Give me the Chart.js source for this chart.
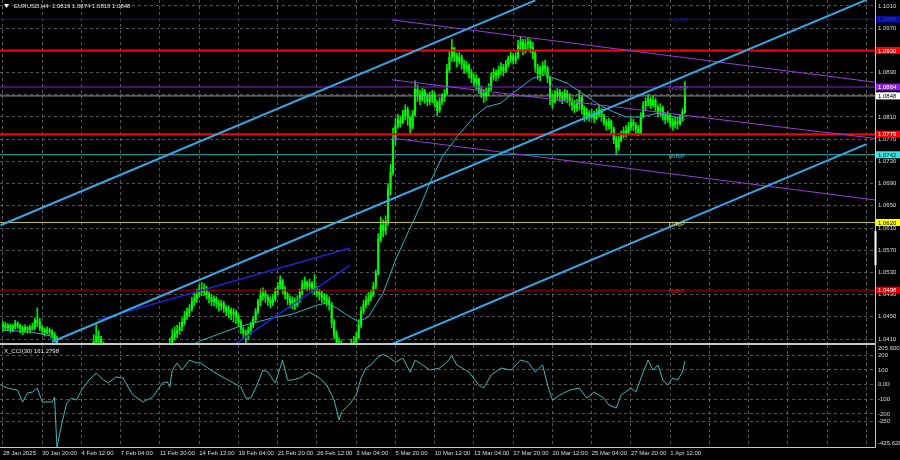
<!DOCTYPE html>
<html>
<head>
<meta charset="utf-8">
<script src="https://cdn.jsdelivr.net/npm/chart.js@4.4.1/dist/chart.umd.min.js"></script>
<style>
  html, body { margin: 0; padding: 0; background: #000; }
  #wrap { position: relative; width: 900px; height: 460px; overflow: hidden; background: #000; }
  canvas { position: absolute; left: 0; }
  #main { top: 0; }
  #cci { top: 344px; }
</style>
</head>
<body>
<div id="wrap">
  <canvas id="main" width="900" height="344"></canvas>
  <canvas id="cci" width="900" height="116"></canvas>
</div>
<script>
// EURUSD H4, one value per bar (bar 0 = 28 Jan 04:00)
const firstOpen = 1.0432;
const closes = [
  1.0436,1.0430,1.0434,1.0428,1.0432,1.0438,1.0433,1.0429,1.0426,1.0431,1.0427,1.0430,1.0432,1.0444,1.0440,1.0430,1.0426,1.0422,1.0426,1.0423,1.0418,1.0410,1.0395,
  1.0260,1.0290,1.0310,1.0300,1.0330,1.0340,1.0335,1.0350,1.0345,1.0360,1.0370,1.0375,1.0380,
  1.0392,1.0405,1.0415,1.0410,1.0400,1.0390,
  1.0380,1.0375,1.0385,1.0380,1.0375,1.0370,1.0380,1.0370,1.0355,1.0320,1.0330,1.0325,1.0310,1.0305,1.0315,1.0310,1.0305,1.0300,1.0310,1.0320,1.0340,1.0360,1.0355,1.0360,1.0370,1.0380,
  1.0400,1.0415,1.0420,1.0425,1.0432,1.0440,1.0452,1.0458,1.0465,1.0478,1.0482,1.0490,1.0500,1.0495,1.0502,1.0490,
  1.0485,1.0478,1.0482,1.0475,1.0470,1.0474,1.0466,1.0460,1.0462,1.0455,1.0458,1.0450,1.0440,1.0428,1.0420,1.0418,1.0426,1.0435,
  1.0445,1.0460,1.0478,1.0488,1.0492,1.0485,1.0480,1.0475,1.0482,1.0495,1.0505,1.0515,1.0500,1.0490,1.0482,1.0475,1.0478,1.0472,1.0480,1.0494,1.0508,1.0512,1.0505,1.0510,1.0502,1.0498,1.0494,1.0490,1.0486,1.0482,1.0480,1.0472,1.0440,1.0418,
  1.0405,1.0400,1.0395,1.0385,1.0380,1.0392,1.0398,1.0405,1.0412,1.0435,1.0460,1.0472,1.0478,
  1.0484,1.0490,1.0505,1.0528,1.0590,1.0615,1.0605,1.0622,1.0680,1.0710,1.0770,1.0795,
  1.0805,1.0800,1.0812,1.0822,1.0808,1.0792,1.0815,1.0860,1.0850,1.0842,1.0855,1.0848,1.0838,1.0845,1.0850,1.0836,1.0822,1.0838,1.0845,1.0852,1.0895,1.0918,1.0935,
  1.0920,1.0910,1.0918,1.0905,1.0898,1.0902,1.0890,1.0880,1.0872,1.0878,1.0860,1.0852,1.0848,1.0856,1.0862,1.0882,1.0890,
  1.0885,1.0895,1.0900,1.0893,1.0905,1.0915,1.0920,1.0912,1.0918,1.0940,1.0945,1.0930,1.0942,
  1.0945,1.0935,1.0925,1.0900,1.0888,1.0895,1.0902,1.0898,1.0880,1.0845,1.0838,1.0850,1.0855,1.0848,1.0842,1.0852,1.0845,
  1.0838,1.0832,1.0826,1.0834,1.0845,1.0825,1.0812,1.0818,1.0810,1.0815,1.0808,1.0815,1.0822,1.0812,1.0800,1.0795,1.0802,1.0790,1.0770,1.0755,
  1.0768,1.0778,1.0785,1.0780,1.0792,1.0800,1.0795,1.0788,1.0782,1.0810,1.0830,1.0838,1.0842,1.0832,1.0840,1.0828,1.0818,1.0826,1.0812,1.0805,1.0812,1.0800,1.0795,1.0802,1.0798,1.0808,1.0819,1.0848
];
const highs = [
  1.0442,1.0440,1.0438,1.0437,1.0436,1.0444,1.0441,1.0437,1.0434,1.0436,1.0433,1.0435,1.0439,1.0448,1.0466,1.0447,1.0434,1.0430,1.0432,1.0430,1.0427,1.0422,1.0415,
  1.0330,1.0300,1.0320,1.0330,1.0350,1.0360,1.0350,1.0360,1.0360,1.0375,1.0385,1.0390,1.0395,
  1.0400,1.0418,1.0436,1.0425,1.0415,1.0405,
  1.0395,1.0390,1.0398,1.0396,1.0388,1.0382,1.0398,1.0385,1.0375,1.0360,1.0340,1.0340,1.0330,1.0320,1.0325,1.0320,1.0318,1.0315,1.0320,1.0330,1.0350,1.0370,1.0370,1.0372,1.0380,1.0392,
  1.0412,1.0428,1.0432,1.0435,1.0440,1.0448,1.0460,1.0466,1.0472,1.0485,1.0492,1.0500,1.0508,1.0512,1.0510,1.0505,
  1.0495,1.0490,1.0488,1.0486,1.0480,1.0480,1.0478,1.0470,1.0470,1.0466,1.0465,1.0462,1.0455,1.0445,1.0432,1.0426,1.0432,1.0440,
  1.0450,1.0465,1.0482,1.0500,1.0502,1.0498,1.0490,1.0486,1.0490,1.0502,1.0512,1.0524,1.0518,1.0505,1.0494,1.0488,1.0486,1.0484,1.0488,1.0500,1.0516,1.0522,1.0515,1.0518,1.0514,1.0526,1.0505,1.0500,1.0496,1.0492,1.0490,1.0486,1.0476,1.0445,
  1.0425,1.0412,1.0408,1.0400,1.0395,1.0402,1.0410,1.0415,1.0422,1.0445,1.0468,1.0480,1.0488,
  1.0494,1.0498,1.0512,1.0534,1.0600,1.0630,1.0625,1.0632,1.0690,1.0725,1.0790,1.0808,
  1.0815,1.0812,1.0822,1.0832,1.0828,1.0812,1.0822,1.0875,1.0868,1.0858,1.0862,1.0860,1.0852,1.0855,1.0858,1.0854,1.0840,1.0845,1.0852,1.0860,1.0905,1.0930,1.0950,
  1.0935,1.0925,1.0926,1.0922,1.0912,1.0910,1.0906,1.0896,1.0888,1.0886,1.0880,1.0866,1.0860,1.0862,1.0870,1.0890,1.0898,
  1.0895,1.0902,1.0908,1.0905,1.0912,1.0920,1.0927,1.0925,1.0926,1.0948,1.0955,1.0950,1.0950,
  1.0952,1.0950,1.0945,1.0930,1.0905,1.0902,1.0910,1.0912,1.0902,1.0882,1.0852,1.0858,1.0862,1.0860,1.0855,1.0860,1.0858,
  1.0852,1.0845,1.0840,1.0842,1.0858,1.0848,1.0830,1.0826,1.0822,1.0824,1.0820,1.0825,1.0832,1.0826,1.0815,1.0806,1.0808,1.0805,1.0792,1.0775,
  1.0775,1.0785,1.0792,1.0795,1.0800,1.0808,1.0806,1.0800,1.0795,1.0818,1.0838,1.0845,1.0850,1.0846,1.0848,1.0844,1.0832,1.0834,1.0830,1.0818,1.0820,1.0815,1.0808,1.0810,1.0808,1.0815,1.0825,1.0874
];
const lows = [
  1.0424,1.0425,1.0426,1.0422,1.0423,1.0428,1.0429,1.0421,1.0418,1.0422,1.0420,1.0421,1.0426,1.0427,1.0432,1.0425,1.0418,1.0415,1.0419,1.0416,1.0412,1.0405,1.0388,
  1.0210,1.0240,1.0270,1.0280,1.0290,1.0320,1.0320,1.0330,1.0330,1.0340,1.0350,1.0360,1.0365,
  1.0380,1.0390,1.0398,1.0400,1.0390,1.0375,
  1.0370,1.0365,1.0370,1.0370,1.0365,1.0360,1.0365,1.0360,1.0340,1.0305,1.0310,1.0315,1.0300,1.0290,1.0300,1.0300,1.0295,1.0290,1.0295,1.0305,1.0315,1.0335,1.0345,1.0350,1.0355,1.0365,
  1.0385,1.0398,1.0408,1.0412,1.0418,1.0425,1.0435,1.0445,1.0450,1.0460,1.0470,1.0476,1.0485,1.0488,1.0488,1.0482,
  1.0475,1.0470,1.0470,1.0466,1.0460,1.0462,1.0458,1.0452,1.0448,1.0445,1.0440,1.0438,1.0432,1.0420,1.0410,1.0402,1.0410,1.0418,
  1.0430,1.0440,1.0455,1.0470,1.0480,1.0476,1.0470,1.0466,1.0470,1.0478,1.0490,1.0500,1.0492,1.0482,1.0472,1.0466,1.0465,1.0463,1.0468,1.0476,1.0490,1.0500,1.0496,1.0498,1.0494,1.0490,1.0486,1.0480,1.0476,1.0474,1.0470,1.0462,1.0430,1.0410,
  1.0395,1.0388,1.0380,1.0370,1.0365,1.0375,1.0385,1.0390,1.0400,1.0410,1.0430,1.0455,1.0466,
  1.0472,1.0478,1.0486,1.0500,1.0525,1.0585,1.0594,1.0598,1.0615,1.0670,1.0705,1.0760,
  1.0790,1.0792,1.0798,1.0805,1.0795,1.0780,1.0788,1.0812,1.0838,1.0832,1.0838,1.0835,1.0830,1.0832,1.0836,1.0828,1.0812,1.0818,1.0832,1.0838,1.0850,1.0890,1.0910,
  1.0910,1.0900,1.0905,1.0896,1.0888,1.0890,1.0880,1.0872,1.0864,1.0860,1.0852,1.0845,1.0836,1.0840,1.0848,1.0858,1.0876,
  1.0875,1.0880,1.0886,1.0884,1.0890,1.0900,1.0908,1.0905,1.0906,1.0915,1.0928,1.0922,1.0925,
  1.0932,1.0926,1.0915,1.0892,1.0878,1.0875,1.0885,1.0888,1.0872,1.0832,1.0826,1.0835,1.0840,1.0838,1.0834,1.0838,1.0836,
  1.0830,1.0822,1.0818,1.0820,1.0822,1.0815,1.0802,1.0805,1.0802,1.0806,1.0800,1.0805,1.0810,1.0802,1.0795,1.0786,1.0788,1.0780,1.0762,1.0742,
  1.0750,1.0765,1.0772,1.0774,1.0778,1.0786,1.0785,1.0780,1.0776,1.0780,1.0808,1.0822,1.0830,1.0825,1.0828,1.0820,1.0810,1.0812,1.0804,1.0798,1.0800,1.0792,1.0786,1.0790,1.0788,1.0795,1.0802,1.0816
];
const opens = closes.map((c, i) => (i === 0 ? firstOpen : closes[i - 1]));

// moving average, read at selected bars
const maIdx = [0, 11, 19, 21, 30, 50, 65, 75, 80, 96, 110, 118, 128, 132, 136, 141, 145, 149, 155, 160, 165, 170, 174, 179, 185, 192, 197, 203, 207, 216, 221, 230, 237, 243, 249, 254, 260, 267, 276, 278];
const maVal = [1.0426, 1.0423, 1.0416, 1.0405, 1.0385, 1.0372, 1.0376, 1.0394, 1.0406, 1.0432, 1.0448, 1.0455, 1.0471, 1.0475, 1.0466, 1.0451, 1.0441, 1.0450, 1.0493, 1.0552, 1.0601, 1.0648, 1.0691, 1.0738, 1.0774, 1.0810, 1.0828, 1.0835, 1.0850, 1.0880, 1.0886, 1.0871, 1.0850, 1.0832, 1.0819, 1.0810, 1.0810, 1.0817, 1.0808, 1.0806];

// CCI(30), read at selected bars
const cciIdx = [-1, 2, 6, 8, 10, 12, 14, 16, 20, 21, 22, 24, 26, 28, 30, 32, 35, 38, 41, 43, 46, 49, 51, 53, 57, 61, 65, 67, 68, 69, 71, 73, 76, 79, 80, 86, 94, 97, 99, 101, 103, 106, 108, 111, 114, 116, 118, 121, 125, 129, 132, 135, 137, 138, 141, 144, 146, 148, 150, 153, 155, 157, 160, 163, 166, 168, 171, 174, 178, 181, 183, 185, 190, 194, 196, 199, 203, 207, 211, 214, 217, 220, 222, 224, 227, 231, 235, 238, 241, 245, 247, 250, 252, 256, 258, 261, 263, 265, 267, 269, 271, 273, 275, 277, 278];
const cciVal = [-3, -24, -38, -119, -57, -51, -24, -119, -119, -85, -425.63, -263, -126, -92, -105, -38, 31, 78, 31, 11, 52, 45, -17, -71, -119, -85, 11, 18, -17, 99, 147, 99, 167, 147, 153, 85, 11, -17, -92, -92, -24, 99, 85, 11, 167, 31, 31, 45, 85, 45, -3, -105, -242, -187, -140, -71, 45, 113, 134, 190, 205.6, 190, 153, 181, 85, 167, 134, 99, 113, 153, 195, 134, 85, -3, -24, 65, 113, 99, 167, 153, 85, 134, -3, -105, -71, -38, -24, -92, -51, -92, -140, -160, -71, -24, -51, 85, 167, 99, 134, 31, -3, 45, 31, 85, 161.28];

const timeLabels = ['28 Jan 2025', '30 Jan 20:00', '4 Feb 12:00', '7 Feb 04:00', '11 Feb 20:00', '14 Feb 12:00', '19 Feb 04:00', '21 Feb 20:00', '26 Feb 12:00', '3 Mar 04:00', '5 Mar 20:00', '10 Mar 12:00', '13 Mar 04:00', '17 Mar 20:00', '20 Mar 12:00', '25 Mar 04:00', '27 Mar 20:00', '1 Apr 12:00'];
const barsPerLabel = 16;
const priceTicks = [1.0410, 1.0450, 1.0490, 1.0530, 1.0570, 1.0610, 1.0650, 1.0690, 1.0730, 1.0770, 1.0810, 1.0850, 1.0890, 1.0930, 1.0970, 1.1010];
const cciTicks = [200, 100, 0, -100, -200, -250];
const cciTickText = ['200', '100', '0.00', '-100', '-200', '-250'];
const cciMax = 205.6007, cciMin = -425.628;

// horizontal levels and their tags
const levels = [1.0986, 1.0930, 1.0864, 1.0848, 1.0779, 1.0742, 1.0620, 1.0498];
const levelTags = ['[+2/8]P', '', '[+1/8]P', '', '', '[8/8]P', '[7/8]P', '[6/8]P'];
const tagBar = 271.5;

// trend lines, [bar, price] end points
const chanTop = [[-1, 1.0615], [217, 1.1020]];
const chanMid = [[20, 1.0405], [352, 1.1021]];
const chanLow = [[150, 1.0385], [352, 1.0761]];
const purpTop = [[158.6, 1.0985], [360, 1.0870]];
const purpMid = [[158.6, 1.0877], [360, 1.0769]];
const purpLow = [[158.6, 1.0772], [360, 1.0658]];
const blueA = [[38.3, 1.0444], [141.5, 1.0574]];
const blueB = [[94, 1.0399], [141.5, 1.0543]];

// price-scale marker on the right edge
const scaleMark = [1.0543, 1.0605];

// ---- view / style ----
const X_MIN = -1.22, X_MAX = 355.5;
const Y_MIN = 1.04028, Y_MAX = 1.10208;
const CCI_TOP = 270;
const FONT = 'Liberation Sans';
const AXIS_W = 25;
const gridColor = 'rgba(140,140,140,0.6)';
const levelStyle = [
  { line: '#12128c', w: 1, box: '#0a0a96', txt: '#3a3ad0', tag: '#1e1eaa' },
  { line: '#ff0000', w: 2, box: '#ff0000', txt: '#ffffff', tag: '' },
  { line: '#8b22d8', w: 1, box: '#8b22d8', txt: '#ffffff', tag: '#a040e8' },
  { line: '#9a9a9a', w: 1, box: '#ffffff', txt: '#000000', tag: '' },
  { line: '#ff0000', w: 2, box: '#ff0000', txt: '#ffffff', tag: '' },
  { line: '#2fb5b5', w: 1, box: '#40e0e0', txt: '#003030', tag: '#40c8c8' },
  { line: '#c8c860', w: 1, box: '#ffff00', txt: '#000000', tag: '#e0e060' },
  { line: '#b40000', w: 1, box: '#e00000', txt: '#ffffff', tag: '#d02020' }
];

const pts = (arr) => arr.map(([x, y]) => ({ x, y }));
const lineDs = (data, color, width, order) => ({
  type: 'line', data, borderColor: color, borderWidth: width,
  pointRadius: 0, fill: false, tension: 0, order
});
const noPad = (s) => { s.paddingLeft = 0; s.paddingRight = 0; s.paddingTop = 0; s.paddingBottom = 0; };

const wicks = closes.map((c, i) => ({ x: i, y: [Math.min(lows[i], opens[i], c), Math.max(highs[i], opens[i], c)] }));
const bodies = closes.map((c, i) => ({ x: i, y: [Math.min(opens[i], c), Math.max(opens[i], c)] }));

const labelTicks = (scale) => {
  const t = [];
  for (let v = 0; v <= X_MAX; v += barsPerLabel) t.push({ value: v });
  scale.ticks = t;
};

const datasets = [];
levels.forEach((lv, k) => {
  datasets.push(lineDs([{ x: X_MIN - 5, y: lv }, { x: X_MAX + 5, y: lv }], levelStyle[k].line, levelStyle[k].w, 5));
});
datasets.push(lineDs(pts(chanTop), '#35a8e8', 2, 2));
datasets.push(lineDs(pts(chanMid), '#35a8e8', 2, 2));
datasets.push(lineDs(pts(chanLow), '#35a8e8', 2, 2));
datasets.push(lineDs(pts(purpTop), '#9a3ae0', 1, 3));
datasets.push(lineDs(pts(purpMid), '#9a3ae0', 1, 3));
datasets.push(lineDs(pts(purpLow), '#9a3ae0', 1, 3));
datasets.push(lineDs(pts(blueA), '#2222dd', 1.5, 3));
datasets.push(lineDs(pts(blueB), '#2222dd', 1.5, 3));
datasets.push(lineDs(maIdx.map((x, k) => ({ x, y: maVal[k] })), '#2ab4c4', 1, 4));
datasets.push({ type: 'bar', data: bodies, backgroundColor: '#00ff00', barThickness: 1.4, grouped: false, order: 8 });
datasets.push({ type: 'bar', data: wicks, backgroundColor: '#00e800', barThickness: 1, grouped: false, order: 9 });

const mainDecor = {
  id: 'mainDecor',
  afterDraw(chart) {
    const { ctx, chartArea: a, scales: { x, y } } = chart;
    ctx.save();
    ctx.strokeStyle = '#c8c8c8';
    ctx.lineWidth = 1;
    ctx.beginPath();
    ctx.moveTo(a.right + 0.5, 0);
    ctx.lineTo(a.right + 0.5, a.bottom + 0.5);
    ctx.lineTo(0, a.bottom + 0.5);
    ctx.stroke();
    ctx.strokeStyle = '#ffffff';
    ctx.lineWidth = 2;
    ctx.beginPath();
    ctx.moveTo(a.right + 0.5, y.getPixelForValue(scaleMark[0]));
    ctx.lineTo(a.right + 0.5, y.getPixelForValue(scaleMark[1]));
    ctx.stroke();
    ctx.font = '6px "' + FONT + '"';
    ctx.textBaseline = 'middle';
    ctx.textAlign = 'left';
    levels.forEach((lv, k) => {
      if (!levelTags[k]) return;
      ctx.fillStyle = levelStyle[k].tag;
      ctx.fillText(levelTags[k], x.getPixelForValue(tagBar), y.getPixelForValue(lv) + 1.5);
    });
    levels.forEach((lv, k) => {
      const py = y.getPixelForValue(lv);
      ctx.fillStyle = levelStyle[k].box;
      ctx.fillRect(a.right + 1, py - 3.5, 24, 7);
      ctx.fillStyle = levelStyle[k].txt;
      ctx.fillText(lv.toFixed(4), a.right + 3, py + 0.5);
    });
    ctx.fillStyle = '#ffffff';
    ctx.beginPath();
    ctx.moveTo(4, 4); ctx.lineTo(9, 4); ctx.lineTo(6.5, 8); ctx.closePath(); ctx.fill();
    ctx.fillStyle = '#e6e6e6';
    ctx.fillText('EURUSD,H4  1.0819 1.0874 1.0816 1.0848', 14, 6.5);
    ctx.restore();
  }
};

new Chart(document.getElementById('main'), {
  type: 'bar',
  data: { datasets },
  options: {
    responsive: false, animation: false, devicePixelRatio: 1,
    layout: { padding: 0 },
    plugins: { legend: { display: false }, tooltip: { enabled: false } },
    scales: {
      x: {
        type: 'linear', min: X_MIN, max: X_MAX, offset: false,
        afterBuildTicks: labelTicks,
        afterFit: (s) => { s.height = 1; noPad(s); },
        ticks: { display: false },
        grid: { color: gridColor, drawTicks: false, offset: false },
        border: { display: false, dash: [3, 3] }
      },
      y: {
        type: 'linear', position: 'right', min: Y_MIN, max: Y_MAX,
        afterBuildTicks: (s) => { s.ticks = priceTicks.map((v) => ({ value: v })); },
        afterFit: (s) => { s.width = AXIS_W; noPad(s); },
        ticks: { color: '#dcdcdc', font: { family: FONT, size: 6 }, padding: 3, autoSkip: false, callback: (v) => v.toFixed(4) },
        grid: { color: gridColor, drawTicks: false },
        border: { display: false, dash: [3, 3] }
      }
    }
  },
  plugins: [mainDecor]
});

const cciDecor = {
  id: 'cciDecor',
  afterDraw(chart) {
    const { ctx, chartArea: a } = chart;
    ctx.save();
    ctx.strokeStyle = '#c8c8c8';
    ctx.lineWidth = 1;
    ctx.beginPath();
    ctx.moveTo(0, a.top - 0.5);
    ctx.lineTo(a.right + 0.5, a.top - 0.5);
    ctx.lineTo(a.right + 0.5, a.bottom + 0.5);
    ctx.lineTo(0, a.bottom + 0.5);
    ctx.stroke();
    ctx.font = '6px "' + FONT + '"';
    ctx.textBaseline = 'middle';
    ctx.textAlign = 'left';
    ctx.fillStyle = '#e6e6e6';
    ctx.fillText('X_CCI(30) 161.2798', 4, a.top + 6);
    ctx.fillStyle = '#dcdcdc';
    ctx.fillText(cciMax.toFixed(4), a.right + 3, a.top + 3.5);
    ctx.fillText(cciMin.toFixed(3), a.right + 3, a.bottom - 3.5);
    ctx.restore();
  }
};

new Chart(document.getElementById('cci'), {
  type: 'line',
  data: {
    datasets: [lineDs(cciIdx.map((x, k) => ({ x, y: cciVal[k] })), '#3cb8b8', 1, 1)]
  },
  options: {
    responsive: false, animation: false, devicePixelRatio: 1,
    layout: { padding: { top: 1 } },
    plugins: { legend: { display: false }, tooltip: { enabled: false } },
    scales: {
      x: {
        type: 'linear', min: X_MIN, max: X_MAX, offset: false,
        afterBuildTicks: labelTicks,
        afterFit: (s) => { s.height = 13; noPad(s); },
        ticks: {
          color: '#dcdcdc', font: { family: FONT, size: 6 }, padding: 3, align: 'start',
          maxRotation: 0, autoSkip: false,
          callback: (v) => timeLabels[v / barsPerLabel] || ''
        },
        grid: { color: gridColor, drawTicks: false },
        border: { display: false, dash: [3, 3] }
      },
      y: {
        type: 'linear', position: 'right', min: cciMin, max: CCI_TOP,
        afterBuildTicks: (s) => { s.ticks = cciTicks.map((v) => ({ value: v })); },
        afterFit: (s) => { s.width = AXIS_W; noPad(s); },
        ticks: {
          color: '#dcdcdc', font: { family: FONT, size: 6 }, padding: 3, autoSkip: false,
          callback: (v, k) => cciTickText[k]
        },
        grid: { color: gridColor, drawTicks: false },
        border: { display: false, dash: [3, 3] }
      }
    }
  },
  plugins: [cciDecor]
});
</script>
</body>
</html>
